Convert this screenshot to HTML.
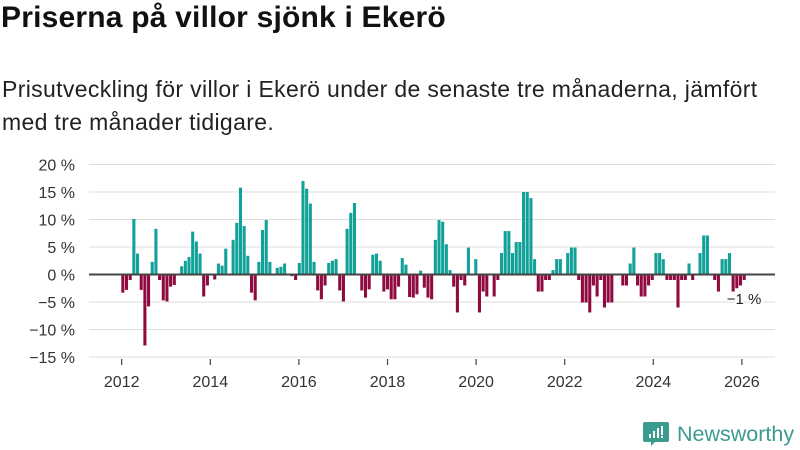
<!DOCTYPE html>
<html><head><meta charset="utf-8"><style>
body{margin:0;width:800px;height:450px;background:#fff;overflow:hidden;font-family:"Liberation Sans",sans-serif;}
h1{position:absolute;left:1px;top:1px;margin:0;font-size:30px;font-weight:bold;color:#111;letter-spacing:0.2px;}
.sub{position:absolute;left:2px;top:73px;margin:0;font-size:23px;letter-spacing:0.35px;line-height:33px;color:#222;width:785px;}
svg{position:absolute;left:0;top:0;}
</style></head><body>
<h1>Priserna på villor sjönk i Ekerö</h1>
<p class="sub">Prisutveckling för villor i Ekerö under de senaste tre månaderna, jämfört med tre månader tidigare.</p>
<svg width="800" height="450">
<g id="grid"></g>
<g id="bars"></g>
<g id="axes"></g>
<g>
<path d="M645,422 h22 a2,2 0 0 1 2,2 v16 a2,2 0 0 1 -2,2 h-12 l-4,4 v-4 h-6 a2,2 0 0 1 -2,-2 v-16 a2,2 0 0 1 2,-2z" fill="#3a9b91"/>
<rect x="649" y="434" width="2" height="4" fill="#fff"/><rect x="653" y="431" width="2" height="7" fill="#fff"/><rect x="657" y="428" width="2" height="10" fill="#fff"/><rect x="661" y="426" width="2" height="9" fill="#fff"/><rect x="661" y="436" width="2" height="2" fill="#fff"/>
<text x="677" y="441" font-size="21.5" fill="#3a9b91" font-family="Liberation Sans, sans-serif">Newsworthy</text>
</g>
</svg>
<script>
const values=[-3.3,-2.8,-1,10.1,3.8,-2.8,-12.9,-5.8,2.3,8.3,-1,-4.7,-4.9,-2.2,-1.9,0,1.5,2.5,3.2,7.8,6,3.8,-4,-2,0,-0.9,2,1.6,4.7,0,6.3,9.4,15.8,8.8,3.4,-3.3,-4.7,2.3,8.1,9.9,2.3,0,1.2,1.4,
2,0,-0.3,-1,2.1,17,15.6,12.9,2.3,-2.9,-4.5,-2,2.1,2.5,2.8,-2.9,-4.9,8.3,11.2,13,0,-2.9,-4.2,-2.7,3.6,3.8,2.5,-3.1,-2.7,-4.5,-4.5,-2.2,3,1.8,-4.1,-4.2,-3.6,0.7,-2.4,-4.2,-4.5,6.3,9.9,
9.6,5.5,0.8,-2.2,-6.9,-1,-2,4.9,0,2.8,-6.9,-3.1,-4,0,-4,-1,3.9,7.9,7.9,3.9,5.9,5.9,15,15,13.9,2.8,-3.1,-3.1,-1,-1,0.8,2.8,2.8,0,3.9,4.9,4.9,-1,-5.1,-5.1,-6.9,-2,-4,
-1,-6,-5.1,-5.1,0,0,-2,-2,2,4.9,-2,-4,-4,-2,-1,3.9,3.9,2.8,-1,-1,-1,-6,-1,-1,2,-1,0,3.9,7.1,7.1,0,-1,-3.1,2.8,2.8,3.9,-3.1,-2.5,-2,-1];
const yTicks=[20,15,10,5,0,-5,-10,-15];
const xTickYears=[2012,2014,2016,2018,2020,2022,2024,2026];
const lastLabel="−1 %";
const NS="http://www.w3.org/2000/svg";
function y(v){return 274.5-v*5.5;}
function xYear(yr){return 121.7+(yr-2012)*44.3;}
const barStart=121, barEnd=746, step=(barEnd-barStart)/values.length;
function xBar(i){return barStart+i*step;}
function mk(tag,attrs,parent){const e=document.createElementNS(NS,tag);for(const k in attrs)e.setAttribute(k,attrs[k]);parent.appendChild(e);return e;}
const grid=document.getElementById('grid'),bars=document.getElementById('bars'),axes=document.getElementById('axes');
yTicks.forEach(t=>{
 if(t!==0){const l=mk('line',{x1:89,x2:775,y1:y(t),y2:y(t),stroke:'#ddd','stroke-width':1},grid);
 
 }
 const tx=mk('text',{x:75,y:y(t)+6,'text-anchor':'end','font-size':16,fill:'#333'},axes);
 tx.textContent=(t<0?'−'+(-t):t)+' %';
 
 
});
values.forEach((v,i)=>{
 const r=mk('rect',{x:xBar(i)+0.3,width:step-0.6,y:v>=0?y(v):y(0),height:Math.abs(y(v)-y(0)),fill:v>=0?'#12a198':'#8e0a3f'},bars);
 
 
});
const z=mk('line',{x1:89,x2:775,y1:y(0),y2:y(0),stroke:'#444','stroke-width':2},axes);


xTickYears.forEach(yr=>{
 mk('line',{x1:xYear(yr),x2:xYear(yr),y1:359,y2:365,stroke:'#444','stroke-width':1.2},axes);
 const t=mk('text',{x:xYear(yr),y:387,'text-anchor':'middle','font-size':16,fill:'#333'},axes);
 t.textContent=yr;
 
 
});
const ll=mk('text',{x:744,y:304,'text-anchor':'middle','font-size':15,fill:'#222',stroke:'#fff','stroke-width':3,'paint-order':'stroke'},axes);
ll.textContent=lastLabel;


</script>
</body></html>
